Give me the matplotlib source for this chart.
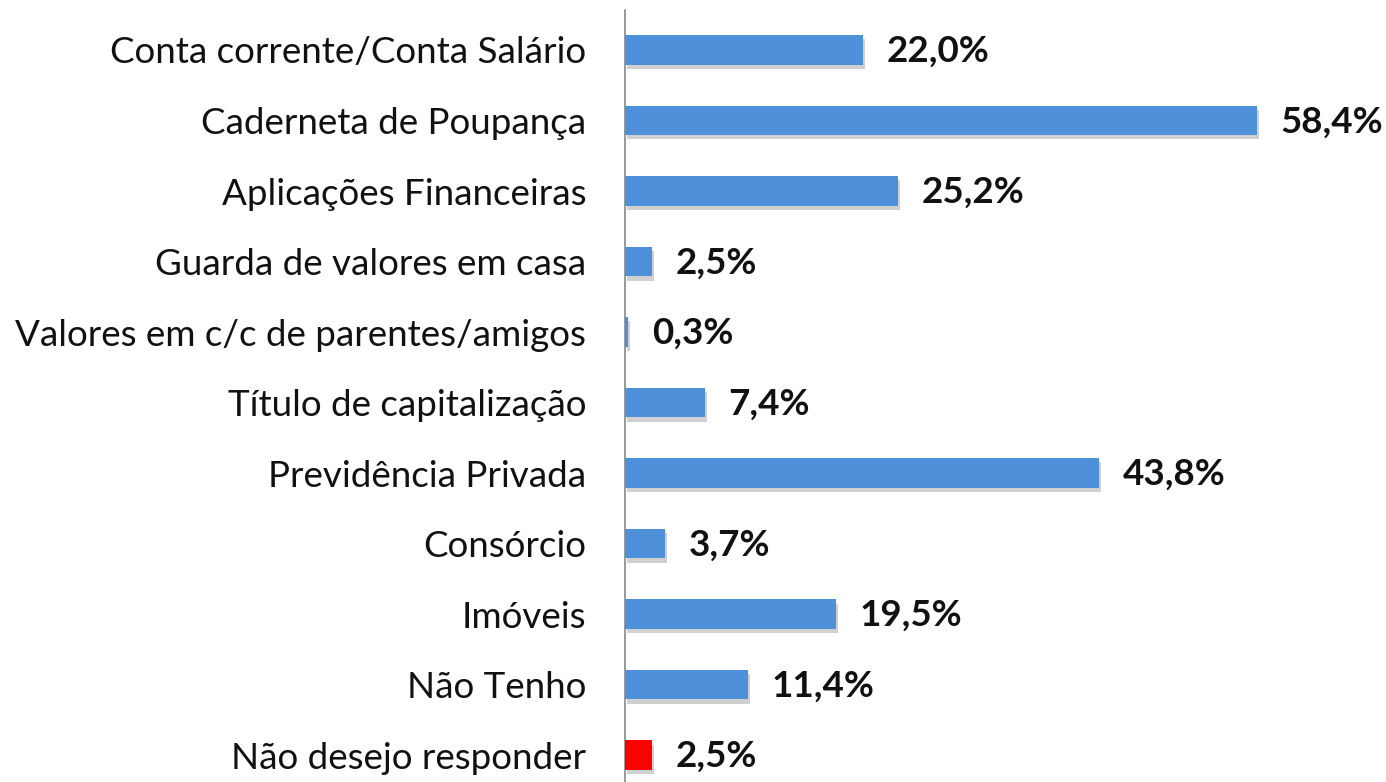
import matplotlib
matplotlib.use("Agg")
import matplotlib.pyplot as plt
from matplotlib import patheffects as pe

# Dados (percentuais)
categorias = [
    "Conta corrente/Conta Salário",
    "Caderneta de Poupança",
    "Aplicações Financeiras",
    "Guarda de valores em casa",
    "Valores em c/c de parentes/amigos",
    "Título de capitalização",
    "Previdência Privada",
    "Consórcio",
    "Imóveis",
    "Não Tenho",
    "Não desejo responder",
]
valores = [22.0, 58.4, 25.2, 2.5, 0.3, 7.4, 43.8, 3.7, 19.5, 11.4, 2.5]
rotulos = ["22,0%", "58,4%", "25,2%", "2,5%", "0,3%", "7,4%",
           "43,8%", "3,7%", "19,5%", "11,4%", "2,5%"]

AZUL = "#4E90DA"
VERMELHO = "#FF0000"
cores = [AZUL] * (len(valores) - 1) + [VERMELHO]

plt.rcParams["font.family"] = ["Lato", "DejaVu Sans"]

fig = plt.figure(figsize=(13.86, 7.82), dpi=100)
ax = fig.add_axes([625 / 1386, 0.0, 675 / 1386, 772 / 782])

y = list(range(len(valores)))
# sombra suave abaixo das barras
sombra = [pe.SimplePatchShadow(offset=(1.5, -3), shadow_rgbFace="#8a8a8a", alpha=0.4),
          pe.Normal()]
barras = ax.barh(y, valores, height=0.42, color=cores, zorder=3)
for b in barras:
    b.set_path_effects(sombra)

for yi, v, txt in zip(y, valores, rotulos):
    ax.annotate(txt, xy=(v, yi), xytext=(17, -1), textcoords="offset points",
                ha="left", va="center", fontsize=26.5, fontweight="bold",
                color="#111111")

ax.set_xlim(0, 675 / 10.82)
ax.set_ylim(10.38, -0.567)
ax.set_yticks(y)
ax.set_yticklabels(categorias, fontsize=26.5, color="#111111")
ax.tick_params(axis="y", length=0, pad=28)
ax.set_xticks([])
for s in ["top", "right", "bottom"]:
    ax.spines[s].set_visible(False)
ax.spines["left"].set_color("#888888")
ax.spines["left"].set_linewidth(1.2)

fig.savefig("out.png", dpi=100)
